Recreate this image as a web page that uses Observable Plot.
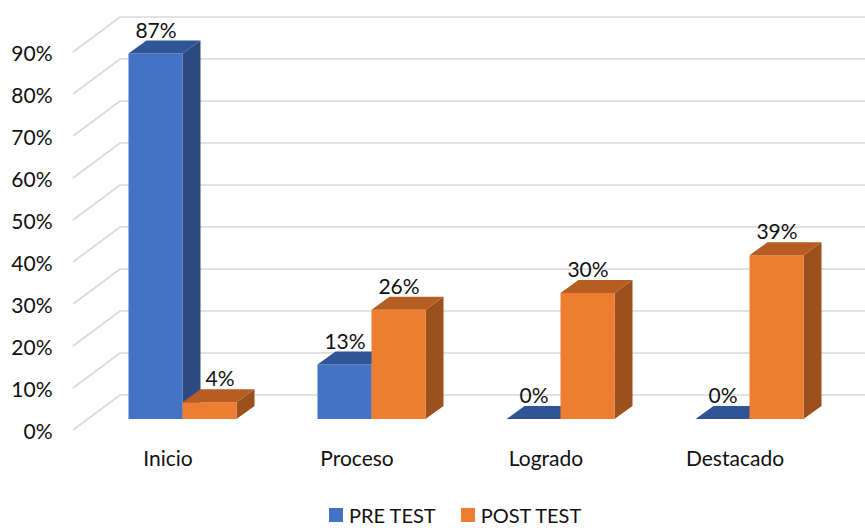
<!DOCTYPE html>
<html>
<head>
<meta charset="utf-8">
<script src="https://cdn.jsdelivr.net/npm/d3@7"></script>
<script src="https://cdn.jsdelivr.net/npm/@observablehq/plot@0.6"></script>
<style>
  html, body { margin: 0; padding: 0; background: #fff; }
  #wrap { position: relative; width: 865px; height: 528px; overflow: hidden; font-family: Lato, "Open Sans", sans-serif; }
  #legend { position: absolute; left: 329px; top: 503px; display: flex; align-items: center; font-size: 20px; color: #111; }
  #legend .item { display: flex; align-items: center; margin-right: 25px; }
  #legend .sw { width: 14px; height: 14px; margin-right: 6px; }
</style>
</head>
<body>
<div id="wrap">
  <div id="chart"></div>
  <div id="legend"></div>
</div>
<script>
// Categories and the two series (shares of students per level)
const categories = ["Inicio", "Proceso", "Logrado", "Destacado"];
const preTest = [0.87, 0.13, 0, 0];
const postTest = [0.04, 0.26, 0.30, 0.39];
const seriesNames = ["PRE TEST", "POST TEST"];
const yTicks = [0, 0.1, 0.2, 0.3, 0.4, 0.5, 0.6, 0.7, 0.8, 0.9];

// Face colours for the pseudo-3D columns: front, top, side
const palette = [
  {front: "#4472C4", top: "#2F5597", side: "#2A4A80"},
  {front: "#ED7D31", top: "#B65E22", side: "#9C511D"}
];

const rows = [];
categories.forEach((c, i) => {
  rows.push({cat: c, series: 0, value: preTest[i], other: postTest[i]});
  rows.push({cat: c, series: 1, value: postTest[i], other: preTest[i]});
});

// Perspective: back wall offset, and where the columns sit in depth
const wall = {dx: 47, dy: -35};
const barFront = {dx: 15, dy: -11};
const barDepth = {dx: 18, dy: -13};
const barFrac = 0.2857; // column width as a share of the category band

function gridMark(index, {y}, values, dims) {
  const g = d3.create("svg:g");
  const x0 = dims.marginLeft;
  const xEnd = dims.width;
  for (const t of yTicks) {
    const yy = y(t);
    g.append("path")
      .attr("d", `M${x0},${yy}L${x0 + wall.dx},${yy + wall.dy}L${xEnd},${yy + wall.dy}`)
      .attr("fill", "none")
      .attr("stroke", "#d9d9d9")
      .attr("stroke-width", 1.6);
  }
  return g.node();
}

function columnsMark(index, {x, y}) {
  const g = d3.create("svg:g");
  const bw = x.bandwidth();
  const w = bw * barFrac;
  for (const r of rows) {
    const center = x(r.cat) + bw / 2 + barFront.dx;
    const x1 = r.series === 0 ? center - w : center;
    const x2 = x1 + w;
    const yb = y(0) + barFront.dy;
    const yt = y(r.value) + barFront.dy;
    const {dx, dy} = barDepth;
    const col = palette[r.series];
    // side face
    g.append("path")
      .attr("d", `M${x2},${yb}L${x2},${yt}L${x2 + dx},${yt + dy}L${x2 + dx},${yb + dy}Z`)
      .attr("fill", col.side);
    // front face
    if (yb - yt > 0) {
      g.append("path")
        .attr("d", `M${x1},${yb}L${x1},${yt}L${x2},${yt}L${x2},${yb}Z`)
        .attr("fill", col.front);
    }
    // top face
    g.append("path")
      .attr("d", `M${x1},${yt}L${x1 + dx},${yt + dy}L${x2 + dx},${yt + dy}L${x2},${yt}Z`)
      .attr("fill", col.top);
  }
  return g.node();
}

const pct = d3.format(".0%");
const halfBar = 27;

const chart = Plot.plot({
  width: 865,
  height: 500,
  marginLeft: 73,
  marginRight: 36,
  marginTop: 52,
  marginBottom: 70,
  style: {fontFamily: "Lato, 'Open Sans', sans-serif", fontSize: "21px", color: "#111", background: "#fff"},
  x: {type: "band", domain: categories, padding: 0},
  y: {domain: [0, 0.9]},
  marks: [
    gridMark,
    Plot.axisY(yTicks, {tickFormat: pct, tickSize: 0, tickPadding: 21, dy: 2, label: null}),
    Plot.axisX(categories, {tickSize: 0, tickPadding: 21, label: null}),
    columnsMark,
    // value labels above the pre-test columns
    Plot.text(rows.filter(d => d.series === 0), {
      x: "cat", y: "value", text: d => pct(d.value),
      dx: -halfBar + barFront.dx, dy: -34, fill: "#111"
    }),
    // value labels above the post-test columns; nudged right when the
    // neighbouring column is taller
    Plot.text(rows.filter(d => d.series === 1 && d.value < d.other), {
      x: "cat", y: "value", text: d => pct(d.value),
      dx: halfBar + barFront.dx + 10, dy: -34, fill: "#111"
    }),
    Plot.text(rows.filter(d => d.series === 1 && d.value >= d.other), {
      x: "cat", y: "value", text: d => pct(d.value),
      dx: halfBar + barFront.dx, dy: -34, fill: "#111"
    })
  ]
});
document.getElementById("chart").appendChild(chart);

// Legend below the chart
const legend = d3.select("#legend");
seriesNames.forEach((name, i) => {
  const item = legend.append("div").attr("class", "item");
  item.append("div").attr("class", "sw").style("background", palette[i].front);
  item.append("span").text(name);
});
</script>
</body>
</html>
